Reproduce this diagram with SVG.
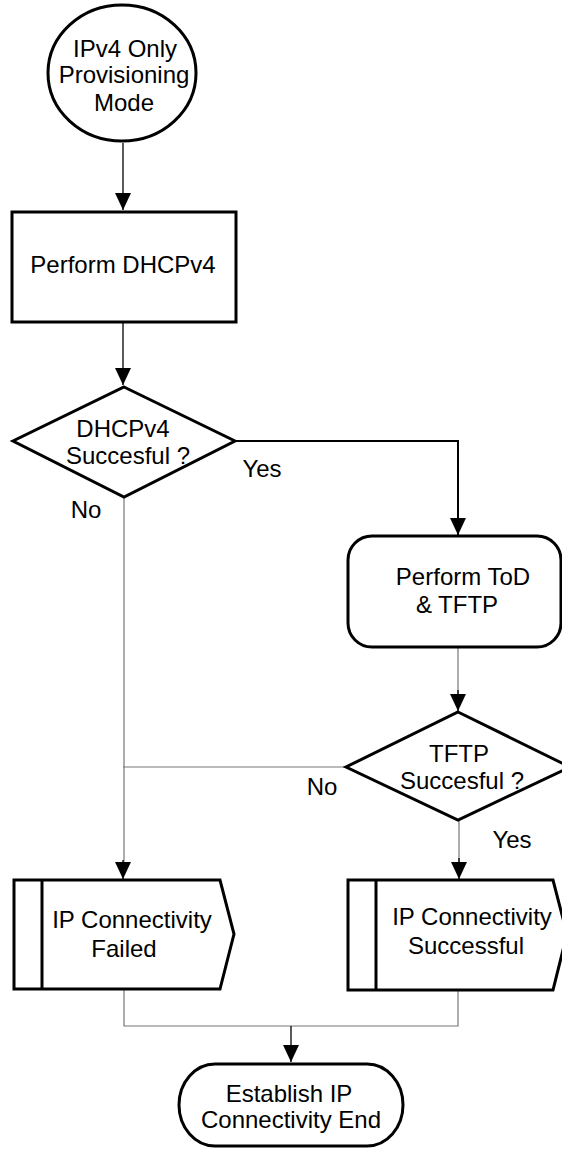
<svg xmlns="http://www.w3.org/2000/svg" width="562" height="1149" viewBox="0 0 562 1149">
<defs>
<style>
.shape{fill:#fff;stroke:#000;stroke-width:3;stroke-linejoin:miter}
.t{font-family:"Liberation Sans",Arial,sans-serif;font-size:24px;fill:#000;text-anchor:middle}
.c{fill:none;stroke:#000;stroke-width:1.3}
.g{fill:none;stroke:#777;stroke-width:1.2}
.k{fill:none;stroke:#000;stroke-width:2}
</style>
<marker id="ah" markerUnits="userSpaceOnUse" markerWidth="18" markerHeight="18" viewBox="0 0 18 18" refX="17" refY="9" orient="auto">
<path d="M0,1 L17,9 L0,17 Z" fill="#000"/>
</marker>
</defs>
<rect width="562" height="1149" fill="#fff"/>
<g id="connectors">
<path class="c" d="M123,143 V210" marker-end="url(#ah)"/>
<path class="c" d="M123,322 V385" marker-end="url(#ah)"/>
<path class="k" d="M235,441 H458 V535" marker-end="url(#ah)"/>
<path class="g" d="M124,497 V862"/>
<path class="c" d="M123,860 V879" marker-end="url(#ah)"/>
<path class="g" d="M346,767 H123"/>
<path class="g" d="M458,647 V695"/>
<path class="c" d="M458,690 V711" marker-end="url(#ah)"/>
<path class="g" d="M459,820 V862"/>
<path class="c" d="M459,858 V879" marker-end="url(#ah)"/>
<path class="g" d="M124,989 V1026 H458 V990"/>
<path class="c" d="M291,1026 V1062" marker-end="url(#ah)"/>
</g>
<g id="start">
<ellipse class="shape" cx="122" cy="73" rx="74" ry="68"/>
<text class="t" x="125" y="57">IPv4 Only</text>
<text class="t" x="124" y="83">Provisioning</text>
<text class="t" x="124" y="111">Mode</text>
</g>
<g id="dhcp">
<rect class="shape" x="12" y="212" width="224" height="110"/>
<text class="t" x="123" y="273">Perform DHCPv4</text>
</g>
<g id="dhcp-ok">
<path class="shape" d="M124,387 L235,441 L124,497 L13,441 Z"/>
<text class="t" x="123" y="437">DHCPv4</text>
<text class="t" x="128" y="464">Succesful ?</text>
<text class="t" x="262" y="477">Yes</text>
<text class="t" x="86" y="518">No</text>
</g>
<g id="tod">
<rect class="shape" x="348" y="536" width="213" height="111" rx="24" ry="24"/>
<text class="t" x="463" y="585">Perform ToD</text>
<text class="t" x="457" y="613">&amp; TFTP</text>
</g>
<g id="tftp-ok">
<path class="shape" d="M458,712 L570,767 L458,820 L346,767 Z"/>
<text class="t" x="459" y="762">TFTP</text>
<text class="t" x="462" y="789">Succesful ?</text>
<text class="t" x="322" y="795">No</text>
<text class="t" x="512" y="848">Yes</text>
</g>
<g id="failed">
<path class="shape" d="M14,880 H220 L234,934 L220,989 H14 Z"/>
<line x1="42" y1="880" x2="42" y2="989" stroke="#000" stroke-width="3"/>
<text class="t" x="132" y="928">IP Connectivity</text>
<text class="t" x="124" y="957">Failed</text>
</g>
<g id="success">
<path class="shape" d="M348,880 H553 L567,934 L553,990 H348 Z"/>
<line x1="376" y1="880" x2="376" y2="990" stroke="#000" stroke-width="3"/>
<text class="t" x="472" y="925">IP Connectivity</text>
<text class="t" x="466" y="954">Successful</text>
</g>
<g id="end">
<rect class="shape" x="179" y="1064" width="224" height="82" rx="36" ry="41"/>
<text class="t" x="289" y="1102">Establish IP</text>
<text class="t" x="291" y="1128">Connectivity End</text>
</g>
</svg>
